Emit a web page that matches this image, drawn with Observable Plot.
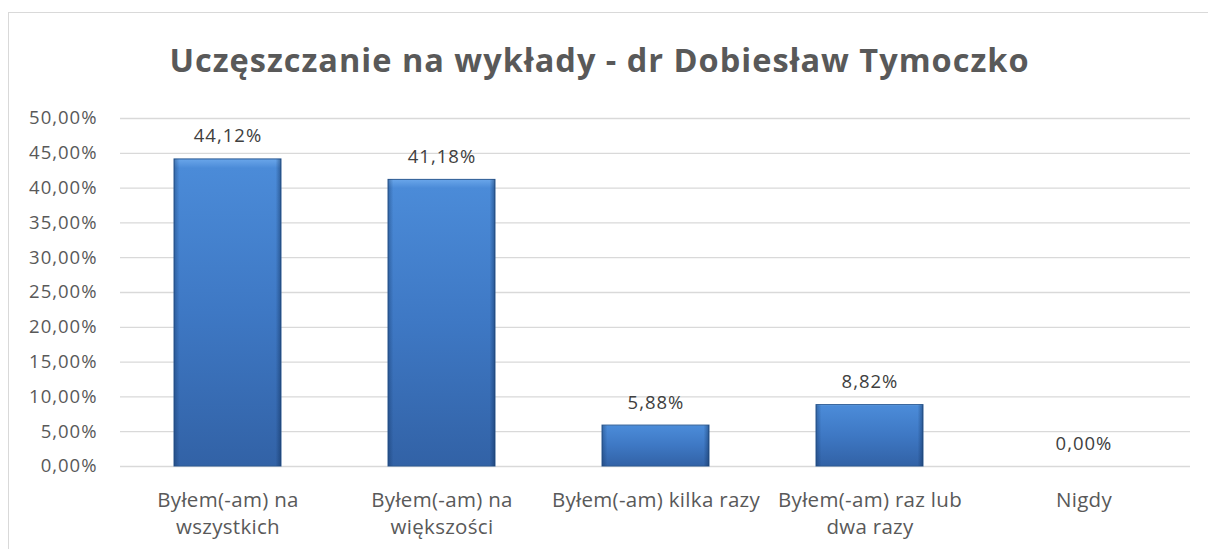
<!DOCTYPE html>
<html>
<head>
<meta charset="utf-8">
<script src="https://cdn.jsdelivr.net/npm/d3@7"></script>
<script src="https://cdn.jsdelivr.net/npm/@observablehq/plot@0.6"></script>
<style>
  html, body { margin: 0; padding: 0; background: #fff; overflow: hidden; }
  #wrap { position: relative; width: 1208px; height: 549px; }
  #border { position: absolute; left: 8px; top: 12px; width: 1300px; height: 600px; border: 1.5px solid #d9d9d9; box-sizing: border-box; }
  #chart { position: absolute; left: 0; top: 0; }
  svg text { font-family: "Open Sans", sans-serif; }
  g[aria-label="y-axis tick label"] text, g[aria-label="text"] text { letter-spacing: 1px; }
  g[aria-label="x-axis tick label"] text { letter-spacing: 0.3px; }
</style>
</head>
<body>
<div id="wrap"><div id="border"></div><div id="chart"></div></div>
<script>
const title = "Uczęszczanie na wykłady - dr Dobiesław Tymoczko";
const categories = [
  "Byłem(-am) na wszystkich",
  "Byłem(-am) na większości",
  "Byłem(-am) kilka razy",
  "Byłem(-am) raz lub dwa razy",
  "Nigdy"
];
const categoryLabels = [
  "Byłem(-am) na\nwszystkich",
  "Byłem(-am) na\nwiększości",
  "Byłem(-am) kilka razy",
  "Byłem(-am) raz lub\ndwa razy",
  "Nigdy"
];
const values = [44.12, 41.18, 5.88, 8.82, 0.00];
const yTicks = [0, 5, 10, 15, 20, 25, 30, 35, 40, 45, 50];

const data = categories.map((c, i) => ({category: c, value: values[i]}));
const fmt = v => v.toFixed(2).replace(".", ",") + "%";
const labelOf = new Map(categories.map((c, i) => [c, categoryLabels[i]]));

const chart = Plot.plot({
  width: 1208,
  height: 549,
  marginLeft: 120,
  marginRight: 18,
  marginTop: 118,
  marginBottom: 83,
  style: {fontFamily: "Open Sans, sans-serif", color: "#595959", background: "transparent"},
  x: {domain: categories, paddingInner: 0.5, paddingOuter: 0.25, label: null},
  y: {domain: [0, 50], label: null},
  marks: [
    Plot.gridY(yTicks, {stroke: "#d9d9d9", strokeOpacity: 1, strokeWidth: 1.3}),
    Plot.axisY({ticks: yTicks, tickSize: 0, tickPadding: 23, tickFormat: fmt, fontSize: 18.5, fill: "#595959", label: null}),
    Plot.axisX({tickSize: 0, tickPadding: 21, tickFormat: d => labelOf.get(d), fontSize: 20.5, lineHeight: 1.32, fill: "#595959", label: null}),
    Plot.barY(data, {x: "category", y: "value", fill: "url(#barGradV)", stroke: "#2c5a93", strokeWidth: 1}),
    Plot.barY(data, {x: "category", y: "value", fill: "url(#barGradH)"}),
    Plot.text(data, {x: "category", y: "value", text: d => fmt(d.value), dy: -17, lineAnchor: "bottom", fontSize: 18.5, fill: "#404040"}),
    Plot.text([title], {frameAnchor: "top", dx: -56, dy: -70, text: d => d, fontSize: 32.5, fontWeight: "bold", fill: "#595959"})
  ]
});

const ns = "http://www.w3.org/2000/svg";
const defs = document.createElementNS(ns, "defs");
defs.innerHTML = `
<linearGradient id="barGradV" x1="0" y1="0" x2="0" y2="1">
  <stop offset="0" stop-color="#6aa6ea"/>
  <stop offset="0.03" stop-color="#4b8bd8"/>
  <stop offset="0.5" stop-color="#3e78c4"/>
  <stop offset="1" stop-color="#3262a6"/>
</linearGradient>
<linearGradient id="barGradH" x1="0" y1="0" x2="1" y2="0">
  <stop offset="0" stop-color="#0b2850" stop-opacity="0.35"/>
  <stop offset="0.05" stop-color="#0b2850" stop-opacity="0"/>
  <stop offset="0.95" stop-color="#0b2850" stop-opacity="0"/>
  <stop offset="1" stop-color="#0b2850" stop-opacity="0.45"/>
</linearGradient>`;
chart.insertBefore(defs, chart.firstChild);
document.getElementById("chart").appendChild(chart);
</script>
</body>
</html>
